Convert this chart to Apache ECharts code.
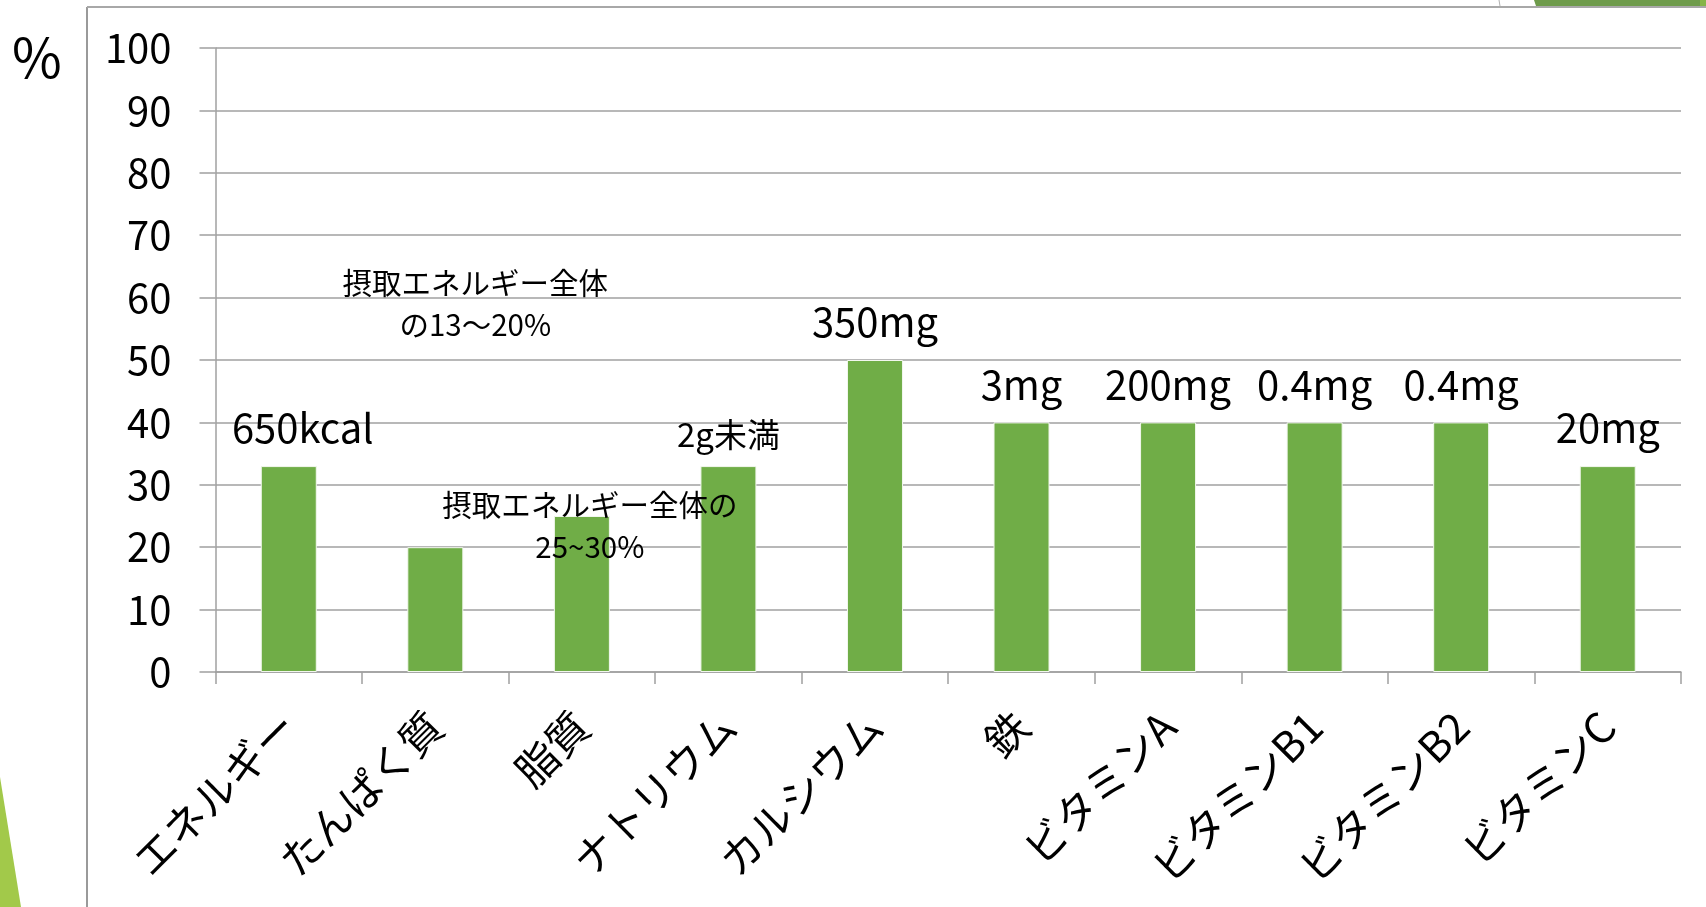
<!DOCTYPE html>
<html>
<head>
<meta charset="utf-8">
<script src="https://cdn.jsdelivr.net/npm/echarts@6/dist/echarts.min.js"></script>
<style>
html,body{margin:0;padding:0;background:#fff;}
#chart{width:1706px;height:907px;}
</style>
</head>
<body>
<div id="chart"></div>
<script>
const categories = ['エネルギー','たんぱく質','脂質','ナトリウム','カルシウム','鉄','ビタミンA','ビタミンB1','ビタミンB2','ビタミンC'];
const values = [33, 20, 25, 33, 50, 40, 40, 40, 40, 33];
const amountLabels = ['650kcal','摂取エネルギー全体\nの13～20%','摂取エネルギー全体の\n25~30%','2g未満','350mg','3mg','200mg','0.4mg','0.4mg','20mg'];
const yMin = 0, yMax = 100, yStep = 10;
const yUnit = '%';

const FONT = "'Noto Sans CJK JP', 'Noto Sans', sans-serif";
const GRAY = '#a0a0a0';

const labelStyles = [
  {offset: [14, 0]},
  {fontSize: 29.5, lineHeight: 42, position: ['50%', -243], align: 'center', verticalAlign: 'middle', offset: [40, 0]},
  {fontSize: 29.5, lineHeight: 42, position: ['50%', 10], align: 'center', verticalAlign: 'middle', offset: [8, 0]},
  {fontSize: 33, distance: 15},
  {}, {}, {}, {}, {}, {}
];

const seriesData = values.map((v, i) => ({
  value: v,
  label: Object.assign({show: true, formatter: amountLabels[i]}, labelStyles[i])
}));

const chart = echarts.init(document.getElementById('chart'), null, {renderer: 'canvas'});
chart.setOption({
  backgroundColor: '#ffffff',
  animation: false,
  textStyle: {fontFamily: FONT},
  grid: {left: 215.5, right: 25, top: 48, bottom: 235, containLabel: false, outerBoundsMode: 'none'},
  xAxis: {
    type: 'category',
    data: categories,
    axisLine: {show: true, lineStyle: {color: GRAY, width: 1.5}},
    axisTick: {show: true, length: 12, lineStyle: {color: GRAY, width: 1.5}},
    axisLabel: {
      rotate: 45, margin: 47, interval: 0,
      fontSize: 42, color: '#000', fontFamily: FONT
    }
  },
  yAxis: {
    type: 'value',
    min: yMin, max: yMax, interval: yStep,
    axisLine: {show: true, lineStyle: {color: GRAY, width: 1.5}},
    axisTick: {show: true, length: 16, lineStyle: {color: GRAY, width: 1.5}},
    splitLine: {show: true, lineStyle: {color: GRAY, width: 1.5}},
    axisLabel: {fontSize: 40, color: '#000', margin: 44, fontFamily: FONT}
  },
  series: [{
    type: 'bar',
    data: seriesData,
    barWidth: 56,
    itemStyle: {color: '#70ad47', borderColor: '#f2f7ee', borderWidth: 1},
    label: {show: true, position: 'top', distance: 18, fontSize: 40, color: '#000', fontFamily: FONT}
  }],
  graphic: [
    {type: 'line', shape: {x1: 87, y1: 7, x2: 87, y2: 907}, style: {stroke: '#9a9a9a', lineWidth: 2}, silent: true},
    {type: 'line', shape: {x1: 87, y1: 7, x2: 1706, y2: 7}, style: {stroke: '#a8a8a8', lineWidth: 2}, silent: true},
    {type: 'polygon', shape: {points: [[1534, 0], [1706, 0], [1706, 6], [1536, 6]]}, style: {fill: '#6e9b4b'}, silent: true},
    {type: 'polygon', shape: {points: [[1700, 0], [1706, 0], [1706, 6], [1700, 6]]}, style: {fill: '#86b447'}, silent: true},
    {type: 'line', shape: {x1: 1499, y1: 0, x2: 1500, y2: 6}, style: {stroke: '#b0b0b0', lineWidth: 1}, silent: true},
    {type: 'polygon', shape: {points: [[0, 777], [21, 907], [0, 907]]}, style: {fill: '#a2c94a'}, silent: true},
    {type: 'text', left: 12, top: 30, style: {text: yUnit, fill: '#000', font: '54px ' + FONT}, silent: true}
  ]
});
</script>
</body>
</html>
